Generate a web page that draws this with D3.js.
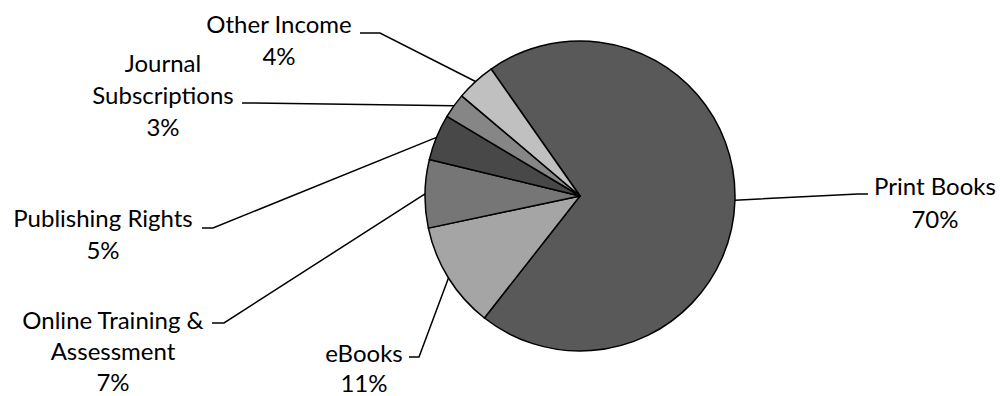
<!DOCTYPE html>
<html>
<head>
<meta charset="utf-8">
<script src="https://cdn.jsdelivr.net/npm/d3@7"></script>
<style>
  body { margin: 0; background: #fff; }
  svg text { font-family: Lato, "Open Sans", sans-serif; fill: #000; }
</style>
</head>
<body>
<div id="pie-chart"></div>
<script>
// data (clockwise, starting at Print Books)
const categories = ["Print Books", "eBooks", "Online Training & Assessment", "Publishing Rights", "Journal Subscriptions", "Other Income"];
const shares = [70.3, 11.1, 7.1, 4.8, 2.6, 4.1];
const pctLabels = ["70%", "11%", "7%", "5%", "3%", "4%"];
const fills = ["#595959", "#a5a5a5", "#767676", "#484848", "#868686", "#c0c0c0"];

// label layout: text centre, first baseline, line gap, wrapped lines, leader end + knee
const labelLayout = [
  {cx: 935, y: 195, gap: 33, lines: ["Print Books"], end: [868, 194], knee: [858, 194]},
  {cx: 364, y: 362, gap: 30, lines: ["eBooks"], end: [409, 357], knee: [419, 357]},
  {cx: 113, y: 329, gap: 31, lines: ["Online Training &", "Assessment"], end: [212, 323], knee: [224, 323]},
  {cx: 103, y: 227, gap: 32, lines: ["Publishing Rights"], end: [202, 228], knee: [213, 228]},
  {cx: 163, y: 72, gap: 32, lines: ["Journal", "Subscriptions"], end: [242, 103], knee: [252, 103]},
  {cx: 279, y: 33, gap: 32, lines: ["Other Income"], end: [360, 33], knee: [380, 33]}
];

const width = 1000, height = 396;
const cx = 580, cy = 196, radius = 155;

const svg = d3.select("#pie-chart").append("svg")
    .attr("width", width)
    .attr("height", height);

const rows = categories.map((c, i) => ({name: c, value: shares[i], pct: pctLabels[i], fill: fills[i], lay: labelLayout[i]}));

// Excel-style first slice angle
const startAngle = -35 * Math.PI / 180;
const pie = d3.pie()
    .value(d => d.value)
    .sort(null)
    .startAngle(startAngle)
    .endAngle(startAngle + 2 * Math.PI);

const arc = d3.arc().innerRadius(0).outerRadius(radius);

const g = svg.append("g").attr("transform", "translate(" + cx + "," + cy + ")");
const arcs = pie(rows);

g.selectAll("path.slice")
    .data(arcs)
    .enter().append("path")
    .attr("class", "slice")
    .attr("d", arc)
    .attr("fill", d => d.data.fill)
    .attr("stroke", "#000")
    .attr("stroke-width", 1.5)
    .attr("stroke-linejoin", "round");

// leader lines from the slice edge to the labels
svg.selectAll("path.leader")
    .data(arcs)
    .enter().append("path")
    .attr("class", "leader")
    .attr("fill", "none")
    .attr("stroke", "#000")
    .attr("stroke-width", 1.5)
    .attr("d", function(d){
        let mid = (d.startAngle + d.endAngle) / 2;
        let px = cx + radius * Math.sin(mid);
        let py = cy - radius * Math.cos(mid);
        let lay = d.data.lay;
        return d3.line()([[px, py], lay.knee, lay.end]);
    });

// labels
const labels = svg.selectAll("text.lbl")
    .data(rows)
    .enter().append("text")
    .attr("class", "lbl")
    .attr("text-anchor", "middle")
    .style("font-size", "24px");

labels.each(function(d){
    let t = d3.select(this);
    let all = d.lay.lines.concat([d.pct]);
    all.forEach(function(s, k){
        t.append("tspan")
            .attr("x", d.lay.cx)
            .attr("y", d.lay.y + k * d.lay.gap)
            .text(s);
    });
});
</script>
</body>
</html>
